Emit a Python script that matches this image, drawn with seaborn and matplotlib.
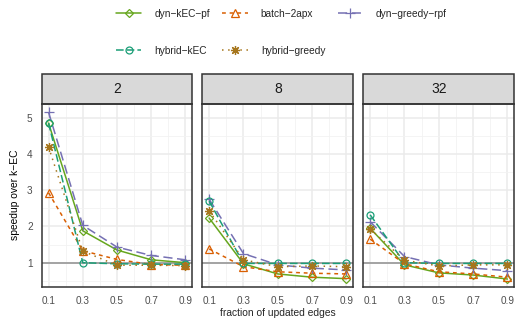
import numpy as np
import pandas as pd
import matplotlib
matplotlib.use("Agg")
import matplotlib.pyplot as plt
from matplotlib.patches import Rectangle
from matplotlib.lines import Line2D
import seaborn as sns

# values
fractions = [0.1, 0.3, 0.5, 0.7, 0.9]
batch_sizes = [2, 8, 32]

# one row per panel (2, 8, 32)
dyn_kec_pf = [[4.85, 1.88, 1.35, 1.08, 1.00],
              [2.23, 0.97, 0.69, 0.60, 0.56],
              [1.95, 0.94, 0.72, 0.66, 0.55]]
batch_2apx = [[2.93, 1.33, 1.09, 0.95, 0.93],
              [1.38, 0.89, 0.75, 0.71, 0.69],
              [1.65, 0.97, 0.75, 0.69, 0.60]]
dyn_greedy_rpf = [[5.15, 2.03, 1.43, 1.20, 1.08],
                  [2.75, 1.25, 0.94, 0.85, 0.80],
                  [2.13, 1.17, 0.94, 0.85, 0.78]]
hybrid_kec = [[4.85, 1.00, 0.97, 0.96, 0.96],
              [2.70, 0.98, 0.98, 0.98, 0.98],
              [2.32, 1.00, 0.98, 0.98, 0.98]]
hybrid_greedy = [[4.19, 1.32, 0.93, 0.93, 0.92],
                 [2.43, 1.08, 0.89, 0.91, 0.89],
                 [1.93, 1.07, 0.91, 0.94, 0.94]]

series = {
    "dyn\u2212kEC\u2212pf": dyn_kec_pf,
    "batch\u22122apx": batch_2apx,
    "dyn\u2212greedy\u2212rpf": dyn_greedy_rpf,
    "hybrid\u2212kEC": hybrid_kec,
    "hybrid\u2212greedy": hybrid_greedy,
}

# style per series
styles = {
    "dyn\u2212kEC\u2212pf": dict(color="#66A61E", marker="D", ls="-", ms=4.3),
    "batch\u22122apx": dict(color="#D95F02", marker="^", ls=(0, (2.5, 2.5)), ms=5.3),
    "dyn\u2212greedy\u2212rpf": dict(color="#7570B3", marker="+", ls=(0, (6, 3)), ms=7.5),
    "hybrid\u2212kEC": dict(color="#1B9E77", marker="o", ls=(0, (5, 2)), ms=5),
    "hybrid\u2212greedy": dict(color="#A6761D", marker=(8, 2, 0), ls=(0, (1, 3)), ms=6.5),
}

rows = []
for name, vals in series.items():
    for i, n in enumerate(batch_sizes):
        for f, v in zip(fractions, vals[i]):
            rows.append({"series": name, "n": n, "fraction": f, "speedup": v})
df = pd.DataFrame(rows)

sns.set_style("white")
plt.rcParams['font.family'] = ['Liberation Sans', 'DejaVu Sans']

W, H = 526, 324
fig = plt.figure(figsize=(W / 100, H / 100), dpi=100)

panel_x = [(41.7, 192.3), (202.3, 353.3), (363.3, 514.3)]
top_px, bot_px = 103.5, 287
strip_h = 29.5

axes = []
for i, n in enumerate(batch_sizes):
    x0, x1 = panel_x[i]
    ax = fig.add_axes([x0 / W, 1 - bot_px / H, (x1 - x0) / W, (bot_px - top_px) / H])
    axes.append(ax)
    ax.axhline(1, color="#A3A3A3", lw=1.4, zorder=1)
    sub = df[df["n"] == n]
    for name in series:
        st = styles[name]
        d = sub[sub["series"] == name]
        sns.lineplot(data=d, x="fraction", y="speedup", ax=ax, color=st["color"],
                     marker=st["marker"], markersize=st["ms"], markerfacecolor="none",
                     markeredgecolor=st["color"], markeredgewidth=0.9,
                     linestyle=st["ls"], lw=1.1, zorder=3)
    ax.set_xlim(0.06, 0.94)
    ax.set_ylim(0.33, 5.39)
    ax.set_xticks(fractions)
    ax.set_xticks([0.2, 0.4, 0.6, 0.8], minor=True)
    ax.set_yticks([1, 2, 3, 4, 5])
    ax.set_yticks([0.5, 1.5, 2.5, 3.5, 4.5], minor=True)
    ax.grid(True, which="major", color="#EBEBEB", lw=1.1, zorder=0)
    ax.grid(True, which="minor", color="#F2F2F2", lw=0.6, zorder=0)
    ax.set_axisbelow(True)
    for s in ax.spines.values():
        s.set_color("#333333")
        s.set_linewidth(1.1)
    ax.tick_params(axis="both", which="major", length=3, width=0.9, color="#333333",
                   labelsize=7.2, labelcolor="#4D4D4D", pad=3.5)
    ax.tick_params(axis="both", which="minor", length=0)
    ax.set_xticklabels([f"{f:.1f}" for f in fractions])
    ax.set_xlabel("")
    ax.set_ylabel("")
    if i > 0:
        ax.set_yticklabels([])
        ax.tick_params(axis="y", which="major", length=0)
    # facet strip
    hfrac = strip_h / (bot_px - top_px)
    ax.add_patch(Rectangle((0, 1), 1, hfrac, transform=ax.transAxes, facecolor="#D9D9D9",
                           edgecolor="#333333", lw=1.1, clip_on=False))
    ax.text(0.5, 1 + hfrac / 2, str(n), transform=ax.transAxes, ha="center", va="center",
            fontsize=10, color="#1A1A1A")

axes[0].set_ylabel("speedup over k\u2212EC", fontsize=7.4, color="black", labelpad=5)
fig.text(0.5 * (panel_x[0][0] + panel_x[2][1]) / W, 1 - 313 / H, "fraction of updated edges",
         ha="center", va="center", fontsize=7.4)

# legend: filled column-wise, so order gives the ggplot row layout
order = ["dyn\u2212kEC\u2212pf", "hybrid\u2212kEC", "batch\u22122apx",
         "hybrid\u2212greedy", "dyn\u2212greedy\u2212rpf"]
handles = []
for name in order:
    st = styles[name]
    handles.append(Line2D([], [], color=st["color"], marker=st["marker"], markersize=st["ms"],
                          markerfacecolor="none", markeredgecolor=st["color"],
                          markeredgewidth=0.9, linestyle=st["ls"], lw=1.1))
fig.legend(handles, order, ncol=3, loc="upper left", bbox_to_anchor=(116 / W, 1 - 9 / H),
           frameon=False, fontsize=7.3, handlelength=2.5, handletextpad=1.3,
           columnspacing=1.2, labelspacing=2.65, borderaxespad=0, borderpad=0)

fig.savefig("out.png", dpi=100)
